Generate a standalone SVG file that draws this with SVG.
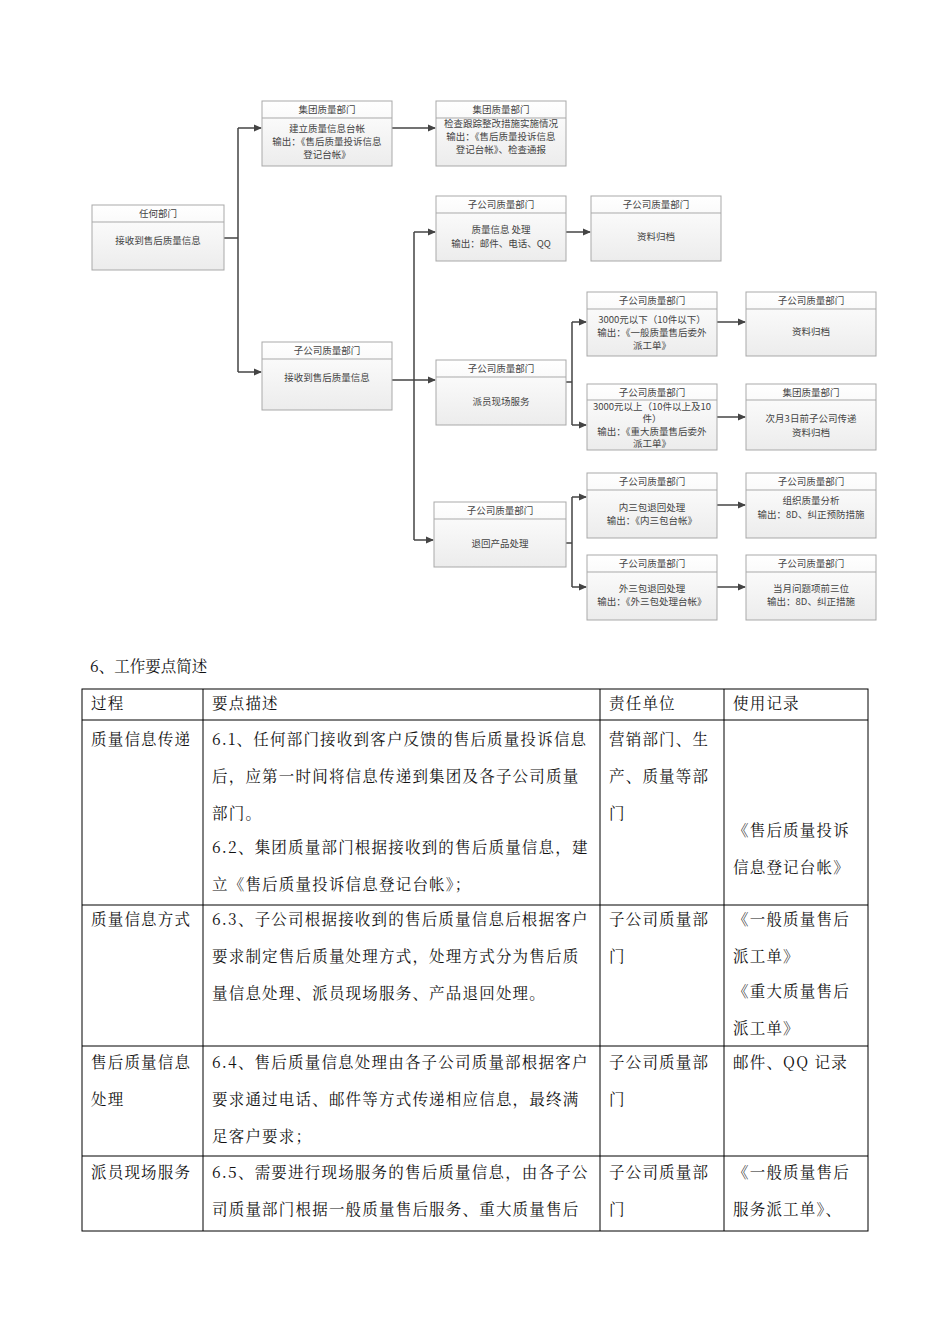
<svg xmlns="http://www.w3.org/2000/svg" width="950" height="1344" viewBox="0 0 950 1344">
<style>
.bx{fill:url(#g);stroke:#a9a9a9;stroke-width:1}
.hd{stroke:#a9a9a9;stroke-width:1}
.t{font-family:"Noto Sans CJK SC","Liberation Sans",sans-serif;font-size:9.5px;fill:#444;text-anchor:middle}
.c{fill:none;stroke:#444;stroke-width:1.5;marker-end:url(#a)}
.l{fill:none;stroke:#444;stroke-width:1.5}
.tb{font-family:"Noto Serif CJK SC","Noto Sans CJK SC",serif;font-size:15.5px;fill:#111;letter-spacing:1.2px}
.gl{stroke:#000;stroke-width:1}
</style>
<defs>
<linearGradient id="g" x1="0" y1="0" x2="0" y2="1"><stop offset="0" stop-color="#fff"/><stop offset="1" stop-color="#ececec"/></linearGradient>
<marker id="a" markerWidth="8" markerHeight="8" refX="7" refY="4" orient="auto" markerUnits="userSpaceOnUse"><path d="M0,0.5L8,4L0,7.5z" fill="#444"/></marker>
</defs>
<rect width="950" height="1344" fill="#fff"/>
<g id="connectors">
<path class="l" d="M224,238H238M238,128V372"/>
<path class="c" d="M238,128H261"/><path class="c" d="M238,372H261"/>
<path class="c" d="M392,128H435"/>
<path class="l" d="M392,380H414M414,232V540"/>
<path class="c" d="M414,232H435"/><path class="c" d="M414,380H435"/><path class="c" d="M414,540H433"/>
<path class="c" d="M566,232H590"/>
<path class="l" d="M566,382H572M572,322V425"/>
<path class="c" d="M572,322H586"/><path class="c" d="M572,425H586"/>
<path class="c" d="M717,322H745"/><path class="c" d="M717,417H745"/>
<path class="l" d="M566,543H572M572,497V587"/>
<path class="c" d="M572,497H586"/><path class="c" d="M572,587H586"/>
<path class="c" d="M717,505H745"/><path class="c" d="M717,587H745"/>
</g>
<g id="nA"><rect class="bx" x="92" y="205" width="132" height="65"/><line class="hd" x1="92" y1="222" x2="224" y2="222"/><text class="t" x="158" y="217">任何部门</text><text class="t" x="158" y="244">接收到售后质量信息</text></g>
<g id="nB"><rect class="bx" x="262" y="101" width="130" height="65"/><line class="hd" x1="262" y1="118" x2="392" y2="118"/><text class="t" x="327" y="113">集团质量部门</text><text class="t" x="327" y="132">建立质量信息台帐</text><text class="t" x="327" y="145">输出：《售后质量投诉信息</text><text class="t" x="327" y="158">登记台帐》</text></g>
<g id="nC"><rect class="bx" x="436" y="101" width="130" height="65"/><line class="hd" x1="436" y1="118" x2="566" y2="118"/><text class="t" x="501" y="113">集团质量部门</text><text class="t" x="501" y="127">检查跟踪整改措施实施情况</text><text class="t" x="501" y="140">输出：《售后质量投诉信息</text><text class="t" x="501" y="153">登记台帐》、检查通报</text></g>
<g id="nD"><rect class="bx" x="436" y="196" width="130" height="65"/><line class="hd" x1="436" y1="213" x2="566" y2="213"/><text class="t" x="501" y="208">子公司质量部门</text><text class="t" x="501" y="233">质量信息 处理</text><text class="t" x="501" y="247">输出：邮件、电话、QQ</text></g>
<g id="nE"><rect class="bx" x="591" y="196" width="130" height="65"/><line class="hd" x1="591" y1="213" x2="721" y2="213"/><text class="t" x="656" y="208">子公司质量部门</text><text class="t" x="656" y="240">资料归档</text></g>
<g id="nF"><rect class="bx" x="262" y="342" width="130" height="68"/><line class="hd" x1="262" y1="359" x2="392" y2="359"/><text class="t" x="327" y="354">子公司质量部门</text><text class="t" x="327" y="381">接收到售后质量信息</text></g>
<g id="nG"><rect class="bx" x="436" y="360" width="130" height="65"/><line class="hd" x1="436" y1="377" x2="566" y2="377"/><text class="t" x="501" y="372">子公司质量部门</text><text class="t" x="501" y="405">派员现场服务</text></g>
<g id="nH"><rect class="bx" x="587" y="292" width="130" height="64"/><line class="hd" x1="587" y1="309" x2="717" y2="309"/><text class="t" x="652" y="304">子公司质量部门</text><text class="t" x="652" y="323">3000元以下（10件以下）</text><text class="t" x="652" y="336">输出：《一般质量售后委外</text><text class="t" x="652" y="349">派工单》</text></g>
<g id="nI"><rect class="bx" x="746" y="292" width="130" height="64"/><line class="hd" x1="746" y1="309" x2="876" y2="309"/><text class="t" x="811" y="304">子公司质量部门</text><text class="t" x="811" y="335">资料归档</text></g>
<g id="nJ"><rect class="bx" x="587" y="384" width="130" height="66"/><line class="hd" x1="587" y1="400" x2="717" y2="400"/><text class="t" x="652" y="396">子公司质量部门</text><text class="t" x="652" y="410">3000元以上（10件以上及10</text><text class="t" x="652" y="422">件）</text><text class="t" x="652" y="435">输出：《重大质量售后委外</text><text class="t" x="652" y="447">派工单》</text></g>
<g id="nK"><rect class="bx" x="746" y="384" width="130" height="66"/><line class="hd" x1="746" y1="400" x2="876" y2="400"/><text class="t" x="811" y="396">集团质量部门</text><text class="t" x="811" y="422">次月3日前子公司传递</text><text class="t" x="811" y="436">资料归档</text></g>
<g id="nL"><rect class="bx" x="434" y="502" width="132" height="65"/><line class="hd" x1="434" y1="519" x2="566" y2="519"/><text class="t" x="500" y="514">子公司质量部门</text><text class="t" x="500" y="547">退回产品处理</text></g>
<g id="nM"><rect class="bx" x="587" y="473" width="130" height="65"/><line class="hd" x1="587" y1="490" x2="717" y2="490"/><text class="t" x="652" y="485">子公司质量部门</text><text class="t" x="652" y="511">内三包退回处理</text><text class="t" x="652" y="524">输出：《内三包台帐》</text></g>
<g id="nN"><rect class="bx" x="746" y="473" width="130" height="65"/><line class="hd" x1="746" y1="490" x2="876" y2="490"/><text class="t" x="811" y="485">子公司质量部门</text><text class="t" x="811" y="504">组织质量分析</text><text class="t" x="811" y="518">输出：8D、纠正预防措施</text></g>
<g id="nO"><rect class="bx" x="587" y="555" width="130" height="65"/><line class="hd" x1="587" y1="572" x2="717" y2="572"/><text class="t" x="652" y="567">子公司质量部门</text><text class="t" x="652" y="592">外三包退回处理</text><text class="t" x="652" y="605">输出：《外三包处理台帐》</text></g>
<g id="nP"><rect class="bx" x="746" y="555" width="130" height="65"/><line class="hd" x1="746" y1="572" x2="876" y2="572"/><text class="t" x="811" y="567">子公司质量部门</text><text class="t" x="811" y="592">当月问题项前三位</text><text class="t" x="811" y="605">输出：8D、纠正措施</text></g>
<text class="tb" x="90" y="672" style="letter-spacing:0">6、工作要点简述</text>
<g id="table">
<rect x="82" y="689" width="786" height="542" fill="none" stroke="#000"/>
<line class="gl" x1="82" y1="720" x2="868" y2="720"/><line class="gl" x1="82" y1="905" x2="868" y2="905"/><line class="gl" x1="82" y1="1046" x2="868" y2="1046"/><line class="gl" x1="82" y1="1156" x2="868" y2="1156"/>
<line class="gl" x1="203" y1="689" x2="203" y2="1231"/><line class="gl" x1="600" y1="689" x2="600" y2="1231"/><line class="gl" x1="724" y1="689" x2="724" y2="1231"/>
<text class="tb" x="91" y="709">过程</text><text class="tb" x="212" y="709">要点描述</text><text class="tb" x="609" y="709">责任单位</text><text class="tb" x="733" y="709">使用记录</text>
<text class="tb" x="91" y="745">质量信息传递</text>
<text class="tb" x="212" y="745">6.1、任何部门接收到客户反馈的售后质量投诉信息</text>
<text class="tb" x="212" y="782">后，应第一时间将信息传递到集团及各子公司质量</text>
<text class="tb" x="212" y="819">部门。</text>
<text class="tb" x="212" y="853">6.2、集团质量部门根据接收到的售后质量信息，建</text>
<text class="tb" x="212" y="890">立《售后质量投诉信息登记台帐》；</text>
<text class="tb" x="609" y="745">营销部门、生</text><text class="tb" x="609" y="782">产、质量等部</text><text class="tb" x="609" y="819">门</text>
<text class="tb" x="733" y="836">《售后质量投诉</text><text class="tb" x="733" y="873">信息登记台帐》</text>
<text class="tb" x="91" y="925">质量信息方式</text>
<text class="tb" x="212" y="925">6.3、子公司根据接收到的售后质量信息后根据客户</text>
<text class="tb" x="212" y="962">要求制定售后质量处理方式，处理方式分为售后质</text>
<text class="tb" x="212" y="999">量信息处理、派员现场服务、产品退回处理。</text>
<text class="tb" x="609" y="925">子公司质量部</text><text class="tb" x="609" y="962">门</text>
<text class="tb" x="733" y="925">《一般质量售后</text><text class="tb" x="733" y="962">派工单》</text><text class="tb" x="733" y="997">《重大质量售后</text><text class="tb" x="733" y="1034">派工单》</text>
<text class="tb" x="91" y="1068">售后质量信息</text><text class="tb" x="91" y="1105">处理</text>
<text class="tb" x="212" y="1068">6.4、售后质量信息处理由各子公司质量部根据客户</text>
<text class="tb" x="212" y="1105">要求通过电话、邮件等方式传递相应信息，最终满</text>
<text class="tb" x="212" y="1142">足客户要求；</text>
<text class="tb" x="609" y="1068">子公司质量部</text><text class="tb" x="609" y="1105">门</text>
<text class="tb" x="733" y="1068">邮件、QQ 记录</text>
<text class="tb" x="91" y="1178">派员现场服务</text>
<text class="tb" x="212" y="1178">6.5、需要进行现场服务的售后质量信息，由各子公</text>
<text class="tb" x="212" y="1215">司质量部门根据一般质量售后服务、重大质量售后</text>
<text class="tb" x="609" y="1178">子公司质量部</text><text class="tb" x="609" y="1215">门</text>
<text class="tb" x="733" y="1178">《一般质量售后</text><text class="tb" x="733" y="1215">服务派工单》、</text>
</g>
</svg>
